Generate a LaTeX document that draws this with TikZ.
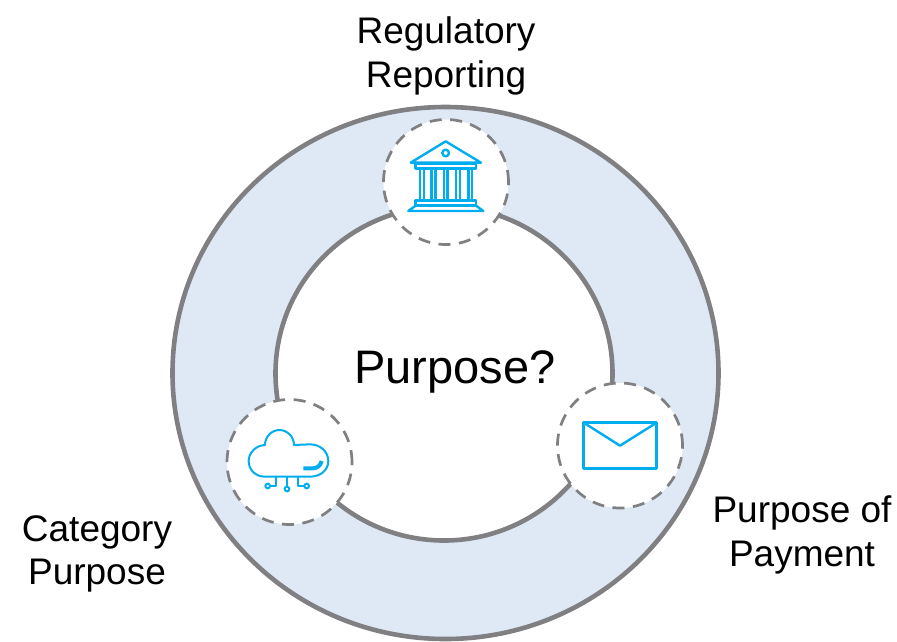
\documentclass[tikz,border=0pt]{standalone}
\usepackage{fontspec}
\usetikzlibrary{shapes.geometric}
\setmainfont{Liberation Sans}
\definecolor{ringfill}{HTML}{DEE9F5}
\definecolor{ringline}{HTML}{808083}
\definecolor{iconblue}{HTML}{00AEEF}
\tikzset{
  ring/.style={draw=ringline,line width=4.6pt},
  badge/.style={circle,minimum size=125pt,inner sep=0pt,fill=white,draw=ringline,line width=2.7pt,dash pattern=on 12pt off 8.5pt},
  caption/.style={align=center,inner sep=0pt,font=\fontsize{37}{43.5}\selectfont,text=black},
  icon/.style={draw=iconblue,line width=2.4pt,line join=round},
  thinicon/.style={draw=iconblue,line width=2pt,line join=round},
  thickicon/.style={draw=iconblue,line width=4pt,line cap=butt}
}
\begin{document}
\begin{tikzpicture}[x=1pt,y=-1pt]
\useasboundingbox (0,0) rectangle (897,641);
\clip (0,0) rectangle (897,641);
\node[ring,fill=ringfill,ellipse,minimum width=546pt,minimum height=532pt,inner sep=0pt] (outer) at (445.5,373) {};
\node[ring,fill=white,ellipse,minimum width=337pt,minimum height=334pt,inner sep=0pt] (inner) at (444,373.5) {};
\node[badge] (bank) at (446,182) {};
\node[badge] (cloud) at (289.5,462) {};
\node[badge] (mail) at (620,445.5) {};
\node[caption] (reg) at (446,56) {Regulatory\\Reporting};
\node[caption] (cat) at (97,554) {Category\\Purpose};
\node[caption] (pay) at (802,535) {Purpose of\\Payment};
\node[inner sep=0pt,font=\fontsize{47}{47}\selectfont] (q) at (455,372) {Purpose?};
% bank icon
\begin{scope}[shift={(375,110)},x=0.3333pt,y=-0.3333pt]
\draw[icon] (212,94) -- (107,158) -- (318,158) -- cycle;
\draw[icon] (212,129) circle[radius=10];
\draw[icon] (122,160) rectangle (303,175);
\foreach \a/\b in {135/147,170/182,207/218,243/255,280/291}{
  \draw[icon] (\a,175) -- (\a,272) (\b,175) -- (\b,272);
}
\draw[icon] (122,272) rectangle (303,287);
\draw[icon] (122,287) -- (100,303) -- (325,303) -- (303,287);
\end{scope}
% cloud icon
\begin{scope}[shift={(220,390)},x=0.3333pt,y=-0.3333pt]
\draw[thinicon] (135,260) .. controls (105,260) and (86,238) .. (86,213)
  .. controls (86,188) and (108,166) .. (135,165)
  .. controls (135,140) and (155,120) .. (178,120)
  .. controls (202,120) and (222,140) .. (222,165)
  -- (270,163) .. controls (302,163) and (325,186) .. (325,213)
  .. controls (325,240) and (302,260) .. (270,260) -- cycle;
\draw[thickicon] (250,235) -- (278,235) .. controls (292,235) and (302,226) .. (305,213);
\draw[thinicon] (168,260) -- (168,288) -- (150,288);
\draw[thinicon] (143,288) circle[radius=7];
\draw[thinicon] (201,260) -- (201,290);
\draw[thinicon] (201,297) circle[radius=7];
\draw[thinicon] (235,260) -- (235,288) -- (253,288);
\draw[thinicon] (260,288) circle[radius=7];
\end{scope}
% mail icon
\begin{scope}[shift={(550,375)},x=0.3333pt,y=-0.3333pt]
\draw[icon] (101,143) rectangle (320,281);
\draw[icon] (101,143) -- (210,212) -- (320,143);
\end{scope}
\end{tikzpicture}
\end{document}
